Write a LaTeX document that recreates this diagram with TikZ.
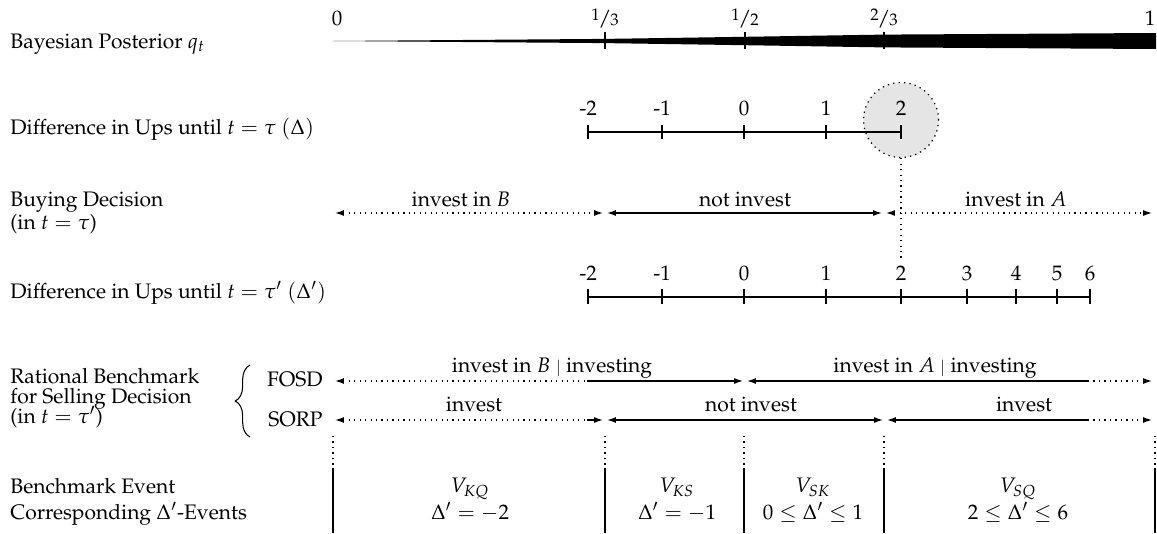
\documentclass[tikz,border=0pt]{standalone}
\usepackage[T1]{fontenc}
\usepackage{mathpazo}
\usetikzlibrary{arrows.meta,decorations.pathreplacing}
\newcommand{\myfrac}[2]{\raisebox{0.45ex}{\footnotesize #1}\kern-0.05em/\kern-0.05em{\footnotesize #2}}
\begin{document}
\begin{tikzpicture}[x=0.476pt,y=-0.476pt,
  txt/.style={inner sep=0pt, font=\normalsize},
  ln/.style={line width=0.6pt},
  dots/.style={line width=0.6pt, dotted},
  tipr/.style={-{Latex[length=4.2pt,width=2.8pt]}},
  tipl/.style={{Latex[length=4.2pt,width=2.8pt]}-},
  tipb/.style={{Latex[length=4.2pt,width=2.8pt]}-{Latex[length=4.2pt,width=2.8pt]}},
]
\useasboundingbox (0,0) rectangle (1157,533);

% ---------- row 1: posterior
\node[txt,anchor=base west] (r1) at (10,48) {Bayesian Posterior $q_t$};
\coordinate (q0) at (333,41);
\fill (q0) -- (605,38.9) -- (745,36.8) -- (884,34.6) -- (1156,33) -- (1156,49) -- (884,47.4) -- (745,45.2) -- (605,43.1) -- cycle;
\node[txt,anchor=base] (p0) at (337,25) {0};
\node[txt,anchor=base] (p1) at (1150,25) {1};
\foreach \x/\l [count=\i] in {605/{\myfrac13},745/{\myfrac12},884/{\myfrac23}}{
  \draw[ln] (\x,32) -- (\x,49);
  \node[txt,anchor=base] (pf\i) at (\x,25) {\l};
}

% ---------- row 2: Delta
\node[txt,anchor=base west] (r2) at (10,134) {Difference in Ups until $t=\tau$ $(\Delta)$};
\node[circle, draw, dotted, line width=0.6pt, fill=black!10, minimum size=35.7pt, inner sep=0pt] (circ) at (901,120) {};
\coordinate (da) at (588,132);
\coordinate (db) at (901,132);
\draw[ln] (da) -- (db);
\foreach \x/\l [count=\i] in {588/-2,662/-1,744/0,826/1,901/2}{
  \draw[ln] (\x,125) -- (\x,139);
  \node[txt,anchor=base] (d\i) at (\x,115) {\l};
}

% ---------- row 3: buying decision
\node[txt,anchor=base west] (r3a) at (10,206) {Buying Decision};
\node[txt,anchor=base west] (r3b) at (10,229) {(in $t=\tau$)};
\coordinate (dlend) at (901,261);
\draw[dots] (circ.south) -- (dlend);
\coordinate (b0) at (335,213);
\coordinate (b1) at (603,213);
\coordinate (b2) at (607,213);
\coordinate (b3) at (882,213);
\coordinate (b4) at (886,213);
\coordinate (b5) at (1152,213);
\draw[dots,tipb] (b0) -- (b1);
\draw[ln,tipb] (b2) -- (b3);
\draw[dots,tipb] (b4) -- (b5);
\node[txt,anchor=base] (bl1) at (461,206) {invest in $B$};
\node[txt,anchor=base] (bl2) at (745,206) {not invest};
\node[txt,anchor=base] (bl3) at (1016,206) {invest in $A$};

% ---------- row 4: Delta'
\node[txt,anchor=base west] (r4) at (10,298) {Difference in Ups until $t=\tau'$ $(\Delta')$};
\coordinate (ea) at (588,297);
\coordinate (eb) at (1090,297);
\draw[ln] (ea) -- (eb);
\foreach \x/\l [count=\i] in {588/-2,662/-1,744/0,826/1,901/2,967/3,1016/4,1057/5,1090/6}{
  \draw[ln] (\x,289) -- (\x,304);
  \node[txt,anchor=base] (e\i) at (\x,280) {\l};
}

% ---------- row 5: rational benchmark
\node[txt,anchor=base west] (r5a) at (10,383) {Rational Benchmark};
\node[txt,anchor=base west] (r5b) at (10,403) {for Selling Decision};
\node[txt,anchor=base west] (r5c) at (10,423) {(in $t=\tau'$)};
\coordinate (brb) at (250,437);
\coordinate (brt) at (250,365);
\draw[line width=0.5pt,decorate,decoration={brace,amplitude=7pt}] (brb) -- (brt);
\node[txt,anchor=base east] (fosd) at (323,386) {FOSD};
\node[txt,anchor=base east] (sorp) at (323,426) {SORP};

\coordinate (f0) at (335,381);
\coordinate (f1) at (587,381);
\coordinate (f2) at (743,381);
\coordinate (f3) at (747,381);
\coordinate (f4) at (1088,381);
\coordinate (f5) at (1152,381);
\draw[dots,tipl] (f0) -- (f1);
\draw[ln,tipr] (f1) -- (f2);
\draw[ln,tipl] (f3) -- (f4);
\draw[dots,tipr] (f4) -- (f5);
\node[txt,anchor=base] (fl1) at (552,372) {invest in $B$ {$\scriptstyle\mid$} investing};
\node[txt,anchor=base] (fl2) at (935,372) {invest in $A$ {$\scriptstyle\mid$} investing};

\coordinate (s0) at (335,420);
\coordinate (s1) at (587,420);
\coordinate (s2) at (603,420);
\coordinate (s3) at (607,420);
\coordinate (s4) at (883,420);
\coordinate (s5) at (887,420);
\coordinate (s6) at (1088,420);
\coordinate (s7) at (1152,420);
\draw[dots,tipl] (s0) -- (s1);
\draw[ln,tipr] (s1) -- (s2);
\draw[ln,tipb] (s3) -- (s4);
\draw[ln,tipl] (s5) -- (s6);
\draw[dots,tipr] (s6) -- (s7);
\node[txt,anchor=base] (sl1) at (474,411) {invest};
\node[txt,anchor=base] (sl2) at (751,411) {not invest};
\node[txt,anchor=base] (sl3) at (1024,411) {invest};

% ---------- row 6: events
\node[txt,anchor=base west] (r6a) at (10,493) {Benchmark Event};
\node[txt,anchor=base west] (r6b) at (10,519) {Corresponding $\Delta'$-Events};
\foreach \x [count=\i] in {333,605,744,884,1155}{
  \coordinate (v\i a) at (\x,436);
  \coordinate (v\i b) at (\x,468);
  \coordinate (v\i c) at (\x,533);
  \draw[dots] (v\i a) -- (v\i b);
  \draw[ln] (v\i b) -- (v\i c);
}
\node[txt,anchor=base] (ev1) at (470,492) {$V_{KQ}$};
\node[txt,anchor=base] (ev2) at (677,492) {$V_{KS}$};
\node[txt,anchor=base] (ev3) at (813,492) {$V_{SK}$};
\node[txt,anchor=base] (ev4) at (1018,492) {$V_{SQ}$};
\node[txt,anchor=base] (ec1) at (470,519) {$\Delta'=-2$};
\node[txt,anchor=base] (ec2) at (677,519) {$\Delta'=-1$};
\node[txt,anchor=base] (ec3) at (813,519) {$0\leq\Delta'\leq1$};
\node[txt,anchor=base] (ec4) at (1018,519) {$2\leq\Delta'\leq6$};
\end{tikzpicture}
\end{document}
